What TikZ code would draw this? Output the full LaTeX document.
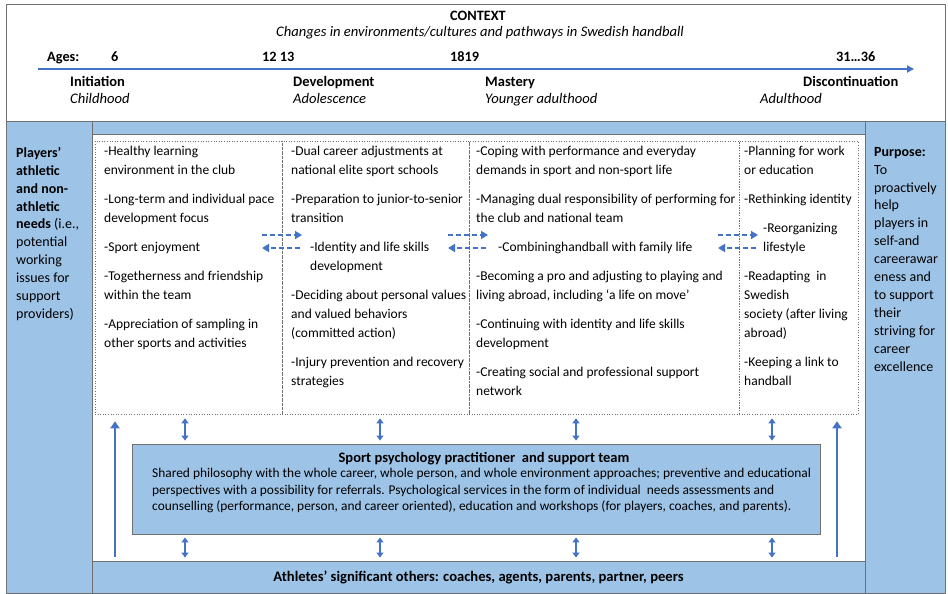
\documentclass[tikz,border=0pt]{standalone}
\usepackage{fontspec}
\setmainfont{Carlito}
\usetikzlibrary{arrows.meta}

\definecolor{paleblue}{HTML}{9DC3E6}
\definecolor{arrowblue}{HTML}{4472C4}
\definecolor{framegray}{HTML}{707070}

\tikzset{
	frame/.style={draw=framegray, line width=0.9pt},
	phasebox/.style={draw=framegray, dotted, line width=0.6pt, inner sep=0pt},
	phasetext/.style={anchor=north west, align=left, inner sep=0pt, font=\fontsize{13.5}{19}\selectfont},
	sidetext/.style={anchor=north west, align=left, inner sep=0pt, font=\fontsize{14}{17.9}\selectfont},
	agelabel/.style={anchor=base west, inner sep=0pt, font=\fontsize{14.3}{16}\selectfont\bfseries},
	stagelabel/.style={anchor=base west, inner sep=0pt, font=\fontsize{14.5}{16}\selectfont\bfseries},
	periodlabel/.style={anchor=base west, inner sep=0pt, font=\fontsize{14.6}{16}\selectfont\itshape},
	timeline/.style={draw=arrowblue, line width=1.8pt, -{Triangle[length=7pt, width=7pt]}},
	swaparrow/.style={draw=arrowblue, line width=1.8pt, dash pattern=on 5pt off 3pt, -{Triangle[length=7pt, width=8pt]}},
	updown/.style={draw=arrowblue, line width=1.6pt, {Triangle[length=5pt, width=7pt]}-{Triangle[length=5pt, width=7pt]}},
	longup/.style={draw=arrowblue, line width=2pt, -{Triangle[length=7pt, width=9pt]}}
}

\begin{document}
\begin{tikzpicture}[x=1pt, y=-1pt]
	
	\useasboundingbox (0, 0) rectangle (948, 594);
	\fill[paleblue] (6, 121) rectangle (945, 594);
	\draw[frame] (6, 4) rectangle (945, 593.5);
	\draw[frame] (6, 121) -- (945, 121);
	\draw[frame] (92, 121) -- (92, 593.5);
	\draw[frame] (865, 121) -- (865, 593.5);
	\filldraw[frame, fill=white] (92, 134) rectangle (865, 561);
	
	\node[font=\fontsize{14.3}{16}\selectfont\bfseries, anchor=base] (context) at (478, 20.5) {CONTEXT};
	\node[font=\fontsize{14.6}{16}\selectfont\itshape, anchor=base] (subtitle) at (480, 37) {Changes in environments/cultures and pathways in Swedish handball};
	
	\coordinate (tstart) at (38, 69);
	\coordinate (tend) at (914, 69);
	\draw[timeline] (tstart) -- (tend);
	
	\node[agelabel] (ages) at (47, 62) {Ages:};
	\node[agelabel] (age6) at (111, 62) {6};
	\node[agelabel] (age12) at (262, 62) {12 13};
	\node[agelabel] (age18) at (450, 62) {1819};
	\node[agelabel] (age31) at (836, 62) {31…36};
	
	\node[stagelabel] (initiation) at (70, 86) {Initiation};
	\node[stagelabel] (development) at (293, 86) {Development};
	\node[stagelabel] (mastery) at (485, 86) {Mastery};
	\node[stagelabel] (discontinuation) at (803, 86) {Discontinuation};
	\node[periodlabel] (childhood) at (70, 103) {Childhood};
	\node[periodlabel] (adolescence) at (293, 103) {Adolescence};
	\node[periodlabel] (younger) at (485, 103) {Younger adulthood};
	\node[periodlabel] (adulthood) at (760, 103) {Adulthood};
	
	\node[sidetext] (needs) at (16, 147) {\textbf{Players’}\\ \textbf{athletic}\\ \textbf{and non-}\\ \textbf{athletic}\\ \textbf{needs} (i.e.,\\ potential\\ working\\ issues for\\ support\\ providers)};
	\node[sidetext] (purpose) at (874, 147) {\textbf{Purpose:}\\ To\\ proactively\\ help\\ players in\\ self-and\\ careerawar\\ eness and\\ to support\\ their\\ striving for\\ career\\ excellence};
	
	\node[phasebox, minimum width=187, minimum height=273] (c1) at (188.5, 277.5) {};
	\node[phasebox, minimum width=187, minimum height=273] (c2) at (375.5, 277.5) {};
	\node[phasebox, minimum width=270, minimum height=273] (c3) at (604, 277.5) {};
	\node[phasebox, minimum width=119, minimum height=273] (c4) at (798.5, 277.5) {};
	
	\node[phasetext] (t1) at (104, 146) {-Healthy learning\\ environment in the club\\[10pt] -Long-term and individual pace\\ development focus\\[10pt] -Sport enjoyment\\[10pt] -Togetherness and friendship\\ within the team\\[10pt] -Appreciation of sampling in\\ other sports and activities};
	\node[phasetext] (t2) at (291, 146) {-Dual career adjustments at\\ national elite sport schools\\[10pt] -Preparation to junior-to-senior\\ transition\\[10pt] \hspace*{19pt}-Identity and life skills\\ \hspace*{19pt}development\\[10pt] -Deciding about personal values\\ and valued behaviors\\ (committed action)\\[10pt] -Injury prevention and recovery\\ strategies};
	\node[phasetext] (t3) at (476, 146) {-Coping with performance and everyday\\ demands in sport and non-sport life\\[10pt] -Managing dual responsibility of performing for\\ the club and national team\\[10pt] \hspace*{22pt}-Combininghandball with family life\\[10pt] -Becoming a pro and adjusting to playing and\\ living abroad, including ‘a life on move’\\[10pt] -Continuing with identity and life skills\\ development\\[10pt] -Creating social and professional support\\ network};
	\node[phasetext] (t4) at (744, 146) {-Planning for work\\ or education\\[10pt] -Rethinking identity\\[10pt] \hspace*{19pt}-Reorganizing\\ \hspace*{19pt}lifestyle\\[10pt] -Readapting~ in\\ Swedish\\ society (after living\\ abroad)\\[10pt] -Keeping a link to\\ handball};
	
	\foreach \xa/\xb in {262/302, 448/488, 718/758} {
		\draw[swaparrow] (\xa, 235) -- (\xb, 235);
		\draw[swaparrow] (\xb - 2, 248) -- (\xa, 248);
	}
	
	\node[frame, fill=paleblue, minimum width=688, minimum height=90, inner sep=0pt] (psych) at (476, 489) {};
	\node[font=\fontsize{14.5}{16}\selectfont\bfseries, anchor=base] (psychtitle) at (484, 462.5) {Sport psychology practitioner ~and support team};
	\node[anchor=north west, align=left, inner sep=0pt, font=\fontsize{13.4}{16.5}\selectfont] (psychtext) at (152, 468) {Shared philosophy with the whole career, whole person, and whole environment approaches; preventive and educational\\ perspectives with a possibility for referrals. Psychological services in the form of individual ~needs assessments and\\ counselling (performance, person, and career oriented), education and workshops (for players, coaches, and parents).};
	
	\node[frame, fill=paleblue, minimum width=773, minimum height=32.5, inner sep=0pt, font=\fontsize{14.6}{16}\selectfont\bfseries] (others) at (478.5, 577.25) {Athletes’ significant others: coaches, agents, parents, partner, peers};
	
	\foreach \x in {185, 380, 576, 772} {
		\draw[updown, shorten <=4pt, shorten >=3pt] (c1.south -| \x, 0) -- (psych.north -| \x, 0);
		\draw[updown, shorten <=3pt, shorten >=3pt] (psych.south -| \x, 0) -- (others.north -| \x, 0);
	}
	\draw[longup, shorten <=4pt, shorten >=7pt] (others.north -| 115, 0) -- (c1.south -| 115, 0);
	\draw[longup, shorten <=4pt, shorten >=7pt] (others.north -| 837, 0) -- (c4.south -| 837, 0);
	
\end{tikzpicture}
\end{document}
